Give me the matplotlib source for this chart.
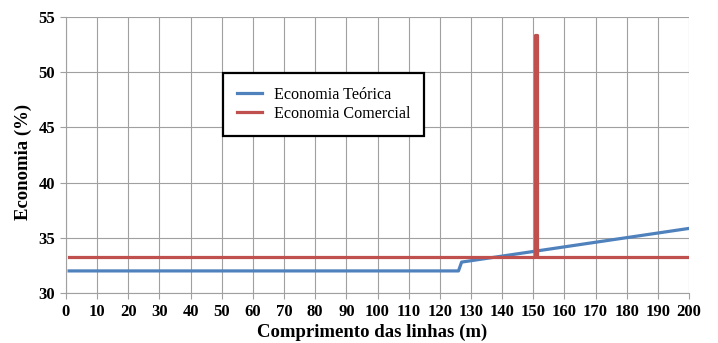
import matplotlib
matplotlib.use('Agg')
import matplotlib.pyplot as plt

plt.rcParams['font.family'] = ['Liberation Serif', 'DejaVu Serif']

# dados
x_teorica = [1, 126, 127, 200]
y_teorica = [32.0, 32.0, 32.8, 35.85]

x_comercial = [1, 150.7, 150.7, 151.3, 151.3, 200]
y_comercial = [33.3, 33.3, 53.4, 53.4, 33.3, 33.3]

x_ticks = list(range(0, 201, 10))
y_ticks = list(range(30, 56, 5))

fig = plt.figure(figsize=(7.18, 3.43), dpi=100)
ax = fig.add_axes([66 / 718, 1 - 293 / 343, 623 / 718, 276 / 343])

ax.plot(x_teorica, y_teorica, color='#4F81BD', linewidth=2.3, label='Economia Teórica')
ax.plot(x_comercial, y_comercial, color='#C0504D', linewidth=2.3, label='Economia Comercial')

ax.set_xlim(0, 200)
ax.set_ylim(30, 55)
ax.set_xticks(x_ticks)
ax.set_yticks(y_ticks)
ax.grid(True, color='#a0a0a0', linewidth=0.8)
ax.set_axisbelow(True)
for s in ['top', 'right']:
    ax.spines[s].set_visible(False)
for s in ['left', 'bottom']:
    ax.spines[s].set_color('#a0a0a0')
ax.tick_params(axis='both', color='#a0a0a0', length=4, labelsize=12, pad=4)
for lbl in ax.get_xticklabels() + ax.get_yticklabels():
    lbl.set_fontweight('bold')

ax.set_xlabel('Comprimento das linhas (m)', fontsize=13.5, fontweight='bold')
ax.set_ylabel('Economia (%)', fontsize=13.5, fontweight='bold')
ax.xaxis.set_label_coords(0.491, -0.11)
ax.yaxis.set_label_coords(-0.055, 0.475)

leg = ax.legend(loc='upper left', bbox_to_anchor=(223 / 718, 1 - 73 / 343),
                bbox_transform=fig.transFigure, fontsize=11.6, frameon=True,
                fancybox=False, edgecolor='black', framealpha=1,
                handlelength=1.6, handletextpad=0.7, borderpad=0.85,
                borderaxespad=0, labelspacing=0.2)
leg.get_frame().set_linewidth(1.6)

fig.savefig('out.png', dpi=100)
